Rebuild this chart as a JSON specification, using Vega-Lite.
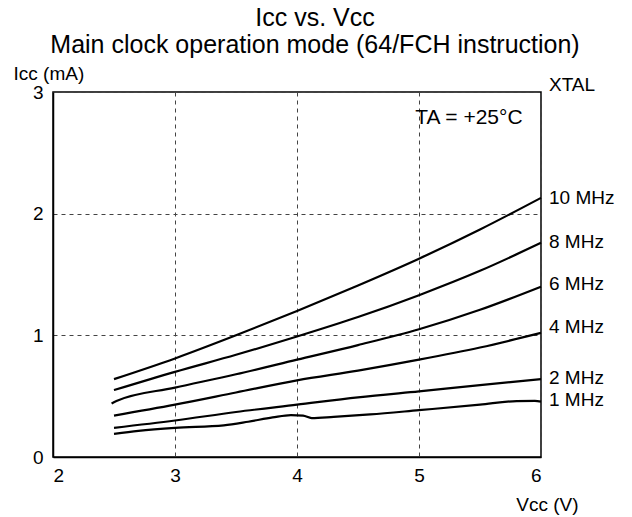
{
  "$schema": "https://vega.github.io/schema/vega-lite/v6.json",
  "width": 488,
  "height": 365,
  "autosize": {"type": "none"},
  "padding": {"left": 53, "top": 92, "right": 91, "bottom": 60},
  "background": "white",
  "config": {
    "font": "Liberation Sans",
    "view": {"stroke": "black", "strokeWidth": 1.5},
    "axis": {"labelFont": "Liberation Sans", "titleFont": "Liberation Sans"}
  },
  "title": {
    "text": ["Icc vs. Vcc", "Main clock operation mode (64/FCH instruction)"],
    "fontSize": 25,
    "fontWeight": "normal",
    "font": "Liberation Sans",
    "color": "black",
    "lineHeight": 27,
    "anchor": "middle",
    "dx": 18,
    "offset": 6
  },
  "datasets": {
    "curves": [
      {"xtal": "10 MHz", "vcc": 2.5, "icc": 0.64},
      {"xtal": "10 MHz", "vcc": 3.0, "icc": 0.81},
      {"xtal": "10 MHz", "vcc": 3.5, "icc": 1.0},
      {"xtal": "10 MHz", "vcc": 4.0, "icc": 1.2},
      {"xtal": "10 MHz", "vcc": 4.5, "icc": 1.41},
      {"xtal": "10 MHz", "vcc": 5.0, "icc": 1.63},
      {"xtal": "10 MHz", "vcc": 5.5, "icc": 1.87},
      {"xtal": "10 MHz", "vcc": 6.0, "icc": 2.13},
      {"xtal": "8 MHz", "vcc": 2.5, "icc": 0.55},
      {"xtal": "8 MHz", "vcc": 3.0, "icc": 0.7},
      {"xtal": "8 MHz", "vcc": 3.5, "icc": 0.84},
      {"xtal": "8 MHz", "vcc": 4.0, "icc": 0.99},
      {"xtal": "8 MHz", "vcc": 4.5, "icc": 1.15},
      {"xtal": "8 MHz", "vcc": 5.0, "icc": 1.33},
      {"xtal": "8 MHz", "vcc": 5.5, "icc": 1.53},
      {"xtal": "8 MHz", "vcc": 6.0, "icc": 1.76},
      {"xtal": "6 MHz", "vcc": 2.48, "icc": 0.44},
      {"xtal": "6 MHz", "vcc": 2.52, "icc": 0.46},
      {"xtal": "6 MHz", "vcc": 3.0, "icc": 0.57},
      {"xtal": "6 MHz", "vcc": 3.5, "icc": 0.68},
      {"xtal": "6 MHz", "vcc": 4.0, "icc": 0.8},
      {"xtal": "6 MHz", "vcc": 4.5, "icc": 0.92},
      {"xtal": "6 MHz", "vcc": 5.0, "icc": 1.05},
      {"xtal": "6 MHz", "vcc": 5.5, "icc": 1.21},
      {"xtal": "6 MHz", "vcc": 6.0, "icc": 1.4},
      {"xtal": "4 MHz", "vcc": 2.5, "icc": 0.34},
      {"xtal": "4 MHz", "vcc": 3.0, "icc": 0.43},
      {"xtal": "4 MHz", "vcc": 3.5, "icc": 0.53},
      {"xtal": "4 MHz", "vcc": 4.0, "icc": 0.63},
      {"xtal": "4 MHz", "vcc": 4.5, "icc": 0.71},
      {"xtal": "4 MHz", "vcc": 5.0, "icc": 0.8},
      {"xtal": "4 MHz", "vcc": 5.5, "icc": 0.9},
      {"xtal": "4 MHz", "vcc": 6.0, "icc": 1.02},
      {"xtal": "2 MHz", "vcc": 2.5, "icc": 0.24},
      {"xtal": "2 MHz", "vcc": 3.0, "icc": 0.3},
      {"xtal": "2 MHz", "vcc": 3.5, "icc": 0.37},
      {"xtal": "2 MHz", "vcc": 4.0, "icc": 0.43},
      {"xtal": "2 MHz", "vcc": 4.5, "icc": 0.49},
      {"xtal": "2 MHz", "vcc": 5.0, "icc": 0.54},
      {"xtal": "2 MHz", "vcc": 5.5, "icc": 0.59},
      {"xtal": "2 MHz", "vcc": 6.0, "icc": 0.64},
      {"xtal": "1 MHz", "vcc": 2.5, "icc": 0.19},
      {"xtal": "1 MHz", "vcc": 2.7, "icc": 0.215},
      {"xtal": "1 MHz", "vcc": 3.0, "icc": 0.24},
      {"xtal": "1 MHz", "vcc": 3.4, "icc": 0.26},
      {"xtal": "1 MHz", "vcc": 3.6, "icc": 0.29},
      {"xtal": "1 MHz", "vcc": 3.8, "icc": 0.325},
      {"xtal": "1 MHz", "vcc": 3.95, "icc": 0.345},
      {"xtal": "1 MHz", "vcc": 4.05, "icc": 0.34},
      {"xtal": "1 MHz", "vcc": 4.12, "icc": 0.32},
      {"xtal": "1 MHz", "vcc": 4.3, "icc": 0.33},
      {"xtal": "1 MHz", "vcc": 4.6, "icc": 0.35},
      {"xtal": "1 MHz", "vcc": 5.0, "icc": 0.385},
      {"xtal": "1 MHz", "vcc": 5.5, "icc": 0.43},
      {"xtal": "1 MHz", "vcc": 5.8, "icc": 0.46},
      {"xtal": "1 MHz", "vcc": 5.95, "icc": 0.462},
      {"xtal": "1 MHz", "vcc": 6.0, "icc": 0.455}
    ],
    "labels": [
      {"text": "XTAL", "vcc": 6.0, "icc": 3.06},
      {"text": "10 MHz", "vcc": 6.0, "icc": 2.13},
      {"text": "8 MHz", "vcc": 6.0, "icc": 1.77},
      {"text": "6 MHz", "vcc": 6.0, "icc": 1.42},
      {"text": "4 MHz", "vcc": 6.0, "icc": 1.07},
      {"text": "2 MHz", "vcc": 6.0, "icc": 0.65},
      {"text": "1 MHz", "vcc": 6.0, "icc": 0.47}
    ],
    "note": [
      {"text": "TA = +25°C", "vcc": 4.97, "icc": 2.79}
    ]
  },
  "layer": [
    {
      "data": {"name": "curves"},
      "mark": {"type": "line", "color": "black", "strokeWidth": 2.2, "interpolate": "monotone"},
      "encoding": {
        "x": {
          "field": "vcc", "type": "quantitative",
          "scale": {"domain": [2, 6], "nice": false, "zero": false},
          "axis": {
            "values": [2, 3, 4, 5, 6], "format": "d",
            "grid": true, "gridDash": [4, 4], "gridColor": "#444", "gridWidth": 1,
            "domain": true, "domainColor": "black", "domainWidth": 1.5,
            "ticks": false, "labelPadding": 9, "labelFontSize": 19, "labelColor": "black",
            "title": "Vcc (V)", "titleFontSize": 19, "titleFontWeight": "normal", "titleColor": "black",
            "titleAlign": "right", "titleBaseline": "alphabetic", "titleX": 525, "titleY": 53
          }
        },
        "y": {
          "field": "icc", "type": "quantitative",
          "scale": {"domain": [0, 3], "nice": false},
          "axis": {
            "values": [0, 1, 2, 3], "format": "d",
            "grid": true, "gridDash": [4, 4], "gridColor": "#444", "gridWidth": 1,
            "domain": true, "domainColor": "black", "domainWidth": 1.5,
            "ticks": false, "labelPadding": 10, "labelFontSize": 19, "labelColor": "black",
            "title": "Icc (mA)", "titleFontSize": 19, "titleFontWeight": "normal", "titleColor": "black",
            "titleAngle": 0, "titleAlign": "left", "titleBaseline": "alphabetic", "titleX": -40, "titleY": -13
          }
        },
        "detail": {"field": "xtal", "type": "nominal"}
      }
    },
    {
      "data": {"name": "labels"},
      "mark": {"type": "text", "align": "left", "baseline": "middle", "dx": 8, "fontSize": 19, "color": "black"},
      "encoding": {
        "x": {"field": "vcc", "type": "quantitative"},
        "y": {"field": "icc", "type": "quantitative"},
        "text": {"field": "text"}
      }
    },
    {
      "data": {"name": "note"},
      "mark": {"type": "text", "align": "left", "baseline": "middle", "fontSize": 21, "color": "black"},
      "encoding": {
        "x": {"field": "vcc", "type": "quantitative"},
        "y": {"field": "icc", "type": "quantitative"},
        "text": {"field": "text"}
      }
    }
  ]
}
